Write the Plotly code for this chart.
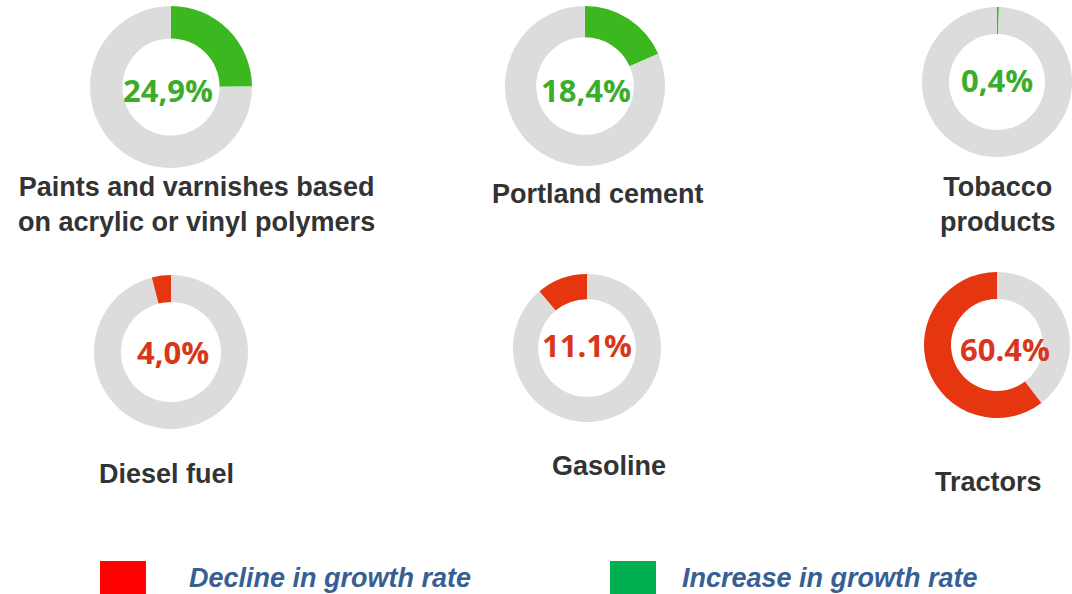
import plotly.graph_objects as go

W, H = 1072, 594

# ---- data ----
products = ["Paints and varnishes based<br>on acrylic or vinyl polymers", "Portland cement",
            "Tobacco<br>products", "Diesel fuel", "Gasoline", "Tractors"]
shares = [24.9, 18.4, 0.4, 4.0, 11.1, 60.4]
share_text = ["24,9%", "18,4%", "0,4%", "4,0%", "11.1%", "60.4%"]
trend = ["increase", "increase", "increase", "decline", "decline", "decline"]
legend_labels = ["Decline in growth rate", "Increase in growth rate"]

# ---- layout (pixel geometry) ----
centers = [(171, 87), (585, 86), (997, 82), (171, 352), (587, 348), (997, 345)]
radii = [81, 80, 75, 77, 74, 73]
holes = [0.6, 0.61, 0.64, 0.65, 0.66, 0.63]
value_pos = [(168, 90), (586, 90), (997, 80), (173, 352), (587, 345), (1005, 349)]
label_pos = [(196, 204), (598, 194), (998, 204), (166, 474), (609, 466), (988, 482)]

slice_col = {"increase": "#3bb71f", "decline": "#e6360f"}
text_col = {"increase": "#3aae2c", "decline": "#d8371c"}
gray = "#dcdcdc"

def px(x):
    return x / W

def py(y):
    return 1 - y / H

fig = go.Figure()
annotations = []
for i in range(len(shares)):
    cx, cy = centers[i]
    r = radii[i]
    t = trend[i]
    if t == "increase":
        vals = [shares[i], 100 - shares[i]]
        cols = [slice_col[t], gray]
    else:
        vals = [100 - shares[i], shares[i]]
        cols = [gray, slice_col[t]]
    fig.add_trace(go.Pie(
        values=vals,
        labels=["a", "b"],
        marker=dict(colors=cols, line=dict(width=0)),
        hole=holes[i],
        sort=False,
        direction="clockwise",
        rotation=0,
        textinfo="none",
        hoverinfo="skip",
        showlegend=False,
        domain=dict(x=[max(0, px(cx - r)), min(1, px(cx + r))],
                    y=[max(0, py(cy + r)), min(1, py(cy - r))]),
    ))
    vx, vy = value_pos[i]
    annotations.append(dict(
        x=px(vx), y=py(vy), xref="paper", yref="paper", showarrow=False,
        text=share_text[i], xanchor="center", yanchor="middle",
        font=dict(family="Open Sans, Arial, sans-serif", size=31, color=text_col[t], weight="bold"),
    ))
    lx, ly = label_pos[i]
    annotations.append(dict(
        x=px(lx), y=py(ly), xref="paper", yref="paper", showarrow=False,
        text=products[i], xanchor="center", yanchor="middle", align="center",
        font=dict(family="Liberation Sans, Arial, sans-serif", size=27, color="#333333", weight="bold"),
    ))

# ---- custom legend ----
legend_boxes = [(100, 146, "#ff0000"), (610, 656, "#00b050")]
legend_text_x = [187, 680]
shapes = []
for (x0, x1, col), lab, tx in zip(legend_boxes, legend_labels, legend_text_x):
    shapes.append(dict(type="rect", xref="paper", yref="paper",
                       x0=px(x0), x1=px(x1), y0=py(594), y1=py(561),
                       fillcolor=col, line=dict(width=0)))
    annotations.append(dict(
        x=px(tx), y=py(578), xref="paper", yref="paper", showarrow=False,
        text=lab, xanchor="left", yanchor="middle",
        font=dict(family="Liberation Sans, Arial, sans-serif", size=27, color="#375f94",
                  weight="bold", style="italic"),
    ))

fig.update_layout(
    width=W, height=H,
    margin=dict(l=0, r=0, t=0, b=0),
    paper_bgcolor="white", plot_bgcolor="white",
    annotations=annotations, shapes=shapes,
)

fig.write_html("out.html", config={"displayModeBar": False},
               post_script="document.body.style.margin='0px';document.body.style.overflow='hidden';")
